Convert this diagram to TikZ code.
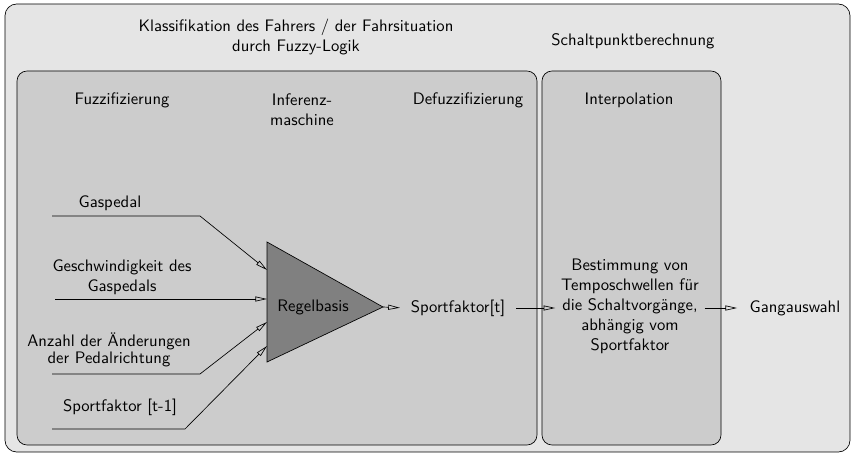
\documentclass[tikz,border=0pt]{standalone}
\usetikzlibrary{arrows.meta}
\tikzset{
  pfeil/.style={-{Triangle[open,length=7pt,width=3pt]}},
  kasten/.style={draw, rounded corners=6pt, fill=black!20},
}
\begin{document}
\begin{tikzpicture}[x=0.6pt, y=-0.6pt, font=\sffamily]
	\useasboundingbox (0,0) rectangle (855,455);
	\draw [rounded corners=7pt, fill=black!10] (5,4) rectangle (850,452);
	\draw [kasten] (17,71) rectangle (537,445);
	\draw [kasten] (542,71) rectangle (721,445);
	\node [align=center] (klass) at (296,37) {Klassifikation des Fahrers / der Fahrsituation\\durch Fuzzy-Logik};
	\node (schalt) at (633,41) {Schaltpunktberechnung};
	\node (fuzz) at (122,100) {Fuzzifizierung};
	\node [align=center] (inferenz) at (302,110) {Inferenz-\\maschine};
	\node (defuzz) at (468,100) {Defuzzifizierung};
	\node (interp) at (629,100) {Interpolation};
	% Regelbasis
	\draw [fill=black!50] (267,242) coordinate (tri-o) -- (383,307) coordinate (tri-s) -- (267,362) coordinate (tri-u) -- cycle;
	\node (regel) at (313,307) {Regelbasis};
	\coordinate (in-1) at (267,270);
	\coordinate (in-2) at (267,299);
	\coordinate (in-3) at (267,322);
	\coordinate (in-4) at (267,346);
	% Eingaben
	\node (gas) at (110,203) {Gaspedal};
	\node [align=center] (gasv) at (122,277) {Geschwindigkeit des\\Gaspedals};
	\node [align=center] (anz) at (109,350) {Anzahl der \"Anderungen\\[-2pt]der Pedalrichtung};
	\node (sportalt) at (120,407) {Sportfaktor [t-1]};
	\coordinate (gas-a) at (52,216);
	\coordinate (gas-k) at (200,216);
	\coordinate (gasv-a) at (55,299);
	\coordinate (anz-a) at (52,374);
	\coordinate (anz-k) at (200,374);
	\coordinate (sportalt-a) at (52,429);
	\coordinate (sportalt-k) at (185,429);
	\draw [pfeil] (gas-a) -- (gas-k) -- (in-1);
	\draw [pfeil] (gasv-a) -- (in-2);
	\draw [pfeil] (anz-a) -- (anz-k) -- (in-3);
	\draw [pfeil] (sportalt-a) -- (sportalt-k) -- (in-4);
	% Ausgaben
	\node (sportt) at (458,308) {Sportfaktor[t]};
	\node [align=center] (bestimm) at (630,306) {Bestimmung von\\Temposchwellen f\"ur\\die Schaltvorg\"ange,\\abh\"angig vom\\Sportfaktor};
	\node (gang) at (795,308) {Gangauswahl};
	\draw [pfeil, shorten >=3pt] (tri-s) -- (sportt.west);
	\draw [pfeil, shorten <=3pt] (sportt.east) -- (bestimm.west |- sportt.east);
	\draw [pfeil, shorten >=4pt] (bestimm.east |- gang.west) -- (gang.west);
\end{tikzpicture}
\end{document}
